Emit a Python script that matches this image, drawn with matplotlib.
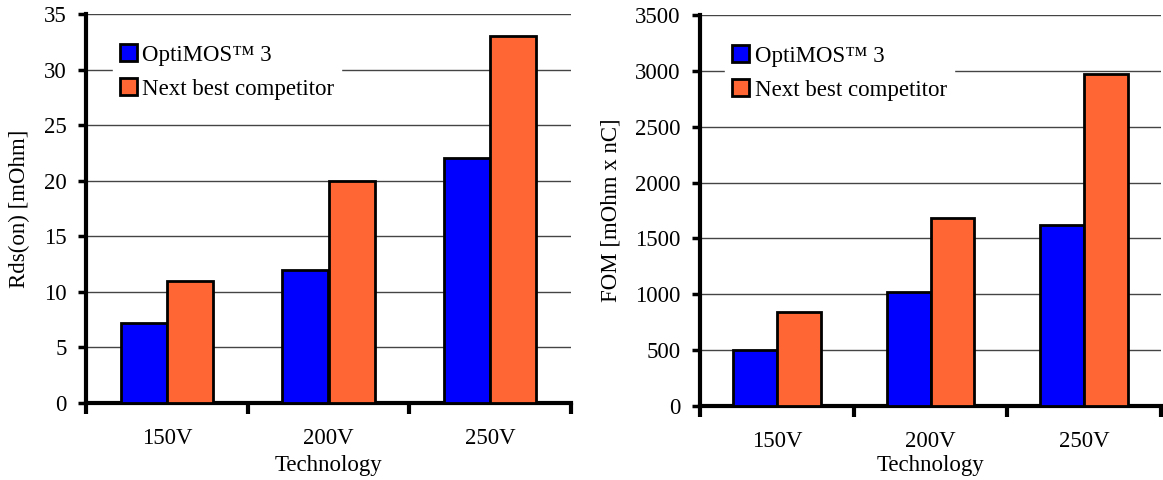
import matplotlib
matplotlib.use("Agg")
import matplotlib.pyplot as plt
import numpy as np

categories = ["150V", "200V", "250V"]
series_names = ["OptiMOS™ 3", "Next best competitor"]
rds_optimos = [7.2, 12, 22]
rds_competitor = [11, 20, 33]
fom_optimos = [500, 1020, 1620]
fom_competitor = [840, 1680, 2970]
rds_ticks = [0, 5, 10, 15, 20, 25, 30, 35]
fom_ticks = [0, 500, 1000, 1500, 2000, 2500, 3000, 3500]

BLUE = "#0000FF"
ORANGE = "#FF6633"
FS = 16.5

plt.rcParams['font.family'] = ['Liberation Serif', 'DejaVu Serif']

fig = plt.figure(figsize=(11.63, 4.8), dpi=100)
ax1 = fig.add_axes([86/1163, 1-403/480, (571-86)/1163, (403-14)/480])
ax2 = fig.add_axes([700/1163, 1-406/480, (1161-700)/1163, (406-15)/480])


def draw(ax, a, b, ticks, ylabel, legend_bbox, ylabelpad, xlabelpad):
    x = np.arange(len(categories))
    w = 0.285
    ax.set_axisbelow(True)
    ax.bar(x - w/2, a, w, color=BLUE, edgecolor="black", linewidth=2, label=series_names[0], zorder=3)
    ax.bar(x + w/2, b, w, color=ORANGE, edgecolor="black", linewidth=2, label=series_names[1], zorder=3)
    ax.set_xlim(-0.5, len(categories) - 0.5)
    ax.set_ylim(ticks[0], ticks[-1])
    ax.set_yticks(ticks)
    ax.set_yticklabels([str(t) for t in ticks], fontsize=FS)
    ax.yaxis.grid(True, color="#444444", linewidth=1.0)
    ax.xaxis.grid(False)
    ax.set_xticks(np.arange(-0.5, len(categories), 1.0))
    ax.set_xticklabels([])
    ax.set_xticks(x, minor=True)
    ax.set_xticklabels(categories, minor=True, fontsize=FS)
    ax.tick_params(axis="x", which="major", length=8, width=3, direction="out")
    ax.tick_params(axis="x", which="minor", length=0, pad=18)
    ax.tick_params(axis="y", which="major", length=6, width=2.5, direction="out", pad=8)
    for s in ["top", "right"]:
        ax.spines[s].set_visible(False)
    for s in ["left", "bottom"]:
        ax.spines[s].set_linewidth(3)
    ax.set_ylabel(ylabel, fontsize=FS, labelpad=ylabelpad)
    ax.set_xlabel("Technology", fontsize=FS, labelpad=xlabelpad)
    leg = ax.legend(loc="upper left", bbox_to_anchor=legend_bbox, frameon=True, fontsize=FS,
                    handlelength=0.75, handleheight=0.75, handletextpad=0.25,
                    labelspacing=0.55, borderpad=0.3, borderaxespad=0, fancybox=False)
    leg.get_frame().set_edgecolor("white")
    leg.get_frame().set_facecolor("white")
    leg.get_frame().set_alpha(1)
    for p in leg.get_patches():
        p.set_linewidth(2)


draw(ax1, rds_optimos, rds_competitor, rds_ticks, "Rds(on) [mOhm]", (0.055, 0.94), 10, 4)
draw(ax2, fom_optimos, fom_competitor, fom_ticks, "FOM [mOhm x nC]", (0.055, 0.94), 10, 2)

fig.savefig("out.png", dpi=100)
